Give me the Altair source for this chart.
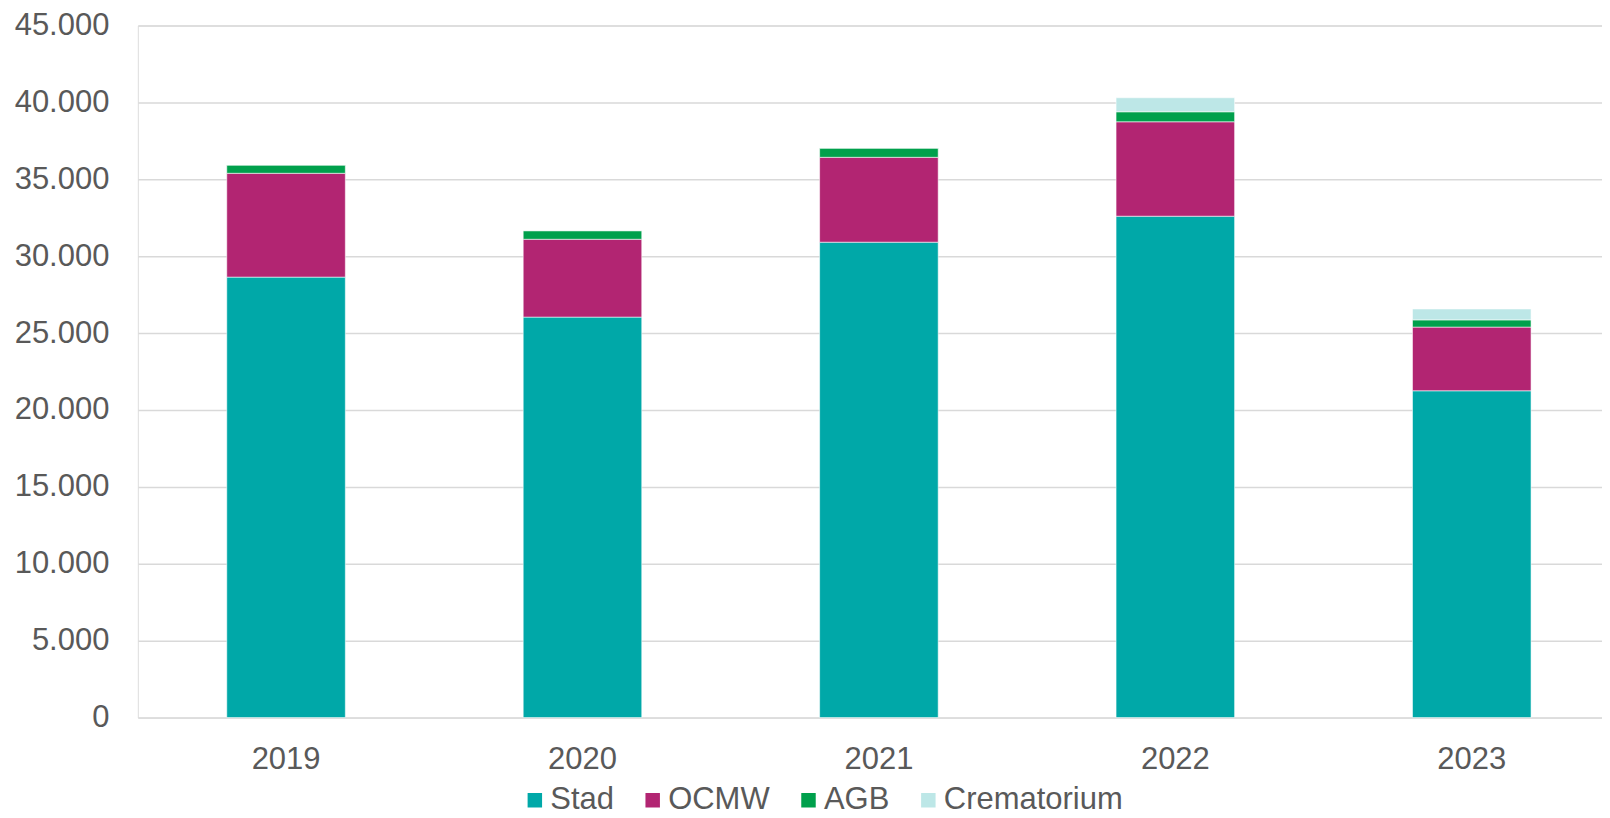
import altair as alt
import pandas as pd

years = ["2019", "2020", "2021", "2022", "2023"]
series = ["Stad", "OCMW", "AGB", "Crematorium"]
stad = [28640, 26040, 30910, 32600, 21250]
ocmw = [6750, 5060, 5520, 6140, 4140]
agb = [540, 560, 600, 650, 470]
crematorium = [0, 0, 0, 910, 710]
colors = ["#00A8A8", "#B22572", "#00A04C", "#BDE7E7"]

rows = []
for i, y in enumerate(years):
    for k, (name, vals) in enumerate(zip(series, [stad, ocmw, agb, crematorium])):
        rows.append({"jaar": y, "reeks": name, "idx": k, "waarde": vals[i]})
df = pd.DataFrame(rows)

FONT = "Liberation Sans"
GREY = "#595959"

chart = alt.Chart(df).mark_bar(stroke="white", strokeWidth=0.8, strokeOpacity=0.7).encode(
    x=alt.X("jaar:N", title=None, sort=years,
            scale=alt.Scale(paddingInner=0.6, paddingOuter=0.3, range=[0, 1484]),
            axis=alt.Axis(labelAngle=0, ticks=False, domain=False, labelPadding=27,
                          labelFontSize=31, labelColor=GREY, labelFont=FONT, grid=False)),
    y=alt.Y("waarde:Q", title=None, stack="zero",
            scale=alt.Scale(domain=[0, 45000], nice=False),
            axis=alt.Axis(values=list(range(0, 45001, 5000)), ticks=False, domain=False,
                          labelPadding=29, labelFontSize=31, labelColor=GREY, labelFont=FONT,
                          gridColor="#D9D9D9", gridWidth=1.5,
                          labelExpr="replace(format(datum.value, ','), ',', '.')")),
    color=alt.Color("reeks:N", title=None,
                    scale=alt.Scale(domain=series, range=colors),
                    legend=alt.Legend(orient="none", legendX=382, legendY=760, direction="horizontal",
                                      symbolType="square", symbolSize=210, symbolStrokeWidth=0,
                                      labelFontSize=31, labelColor=GREY, labelFont=FONT,
                                      labelLimit=500,
                                      labelOffset=0, columnPadding=23, padding=0)),
    order=alt.Order("idx:Q", sort="ascending"),
).properties(
    width=1466, height=693,
    autosize=alt.AutoSizeParams(type="none"),
    padding={"left": 130, "top": 17, "right": 0, "bottom": 100},
).configure_view(stroke=None).configure(background="white")

chart.save("out.html", embed_options={"renderer": "svg", "actions": False})
